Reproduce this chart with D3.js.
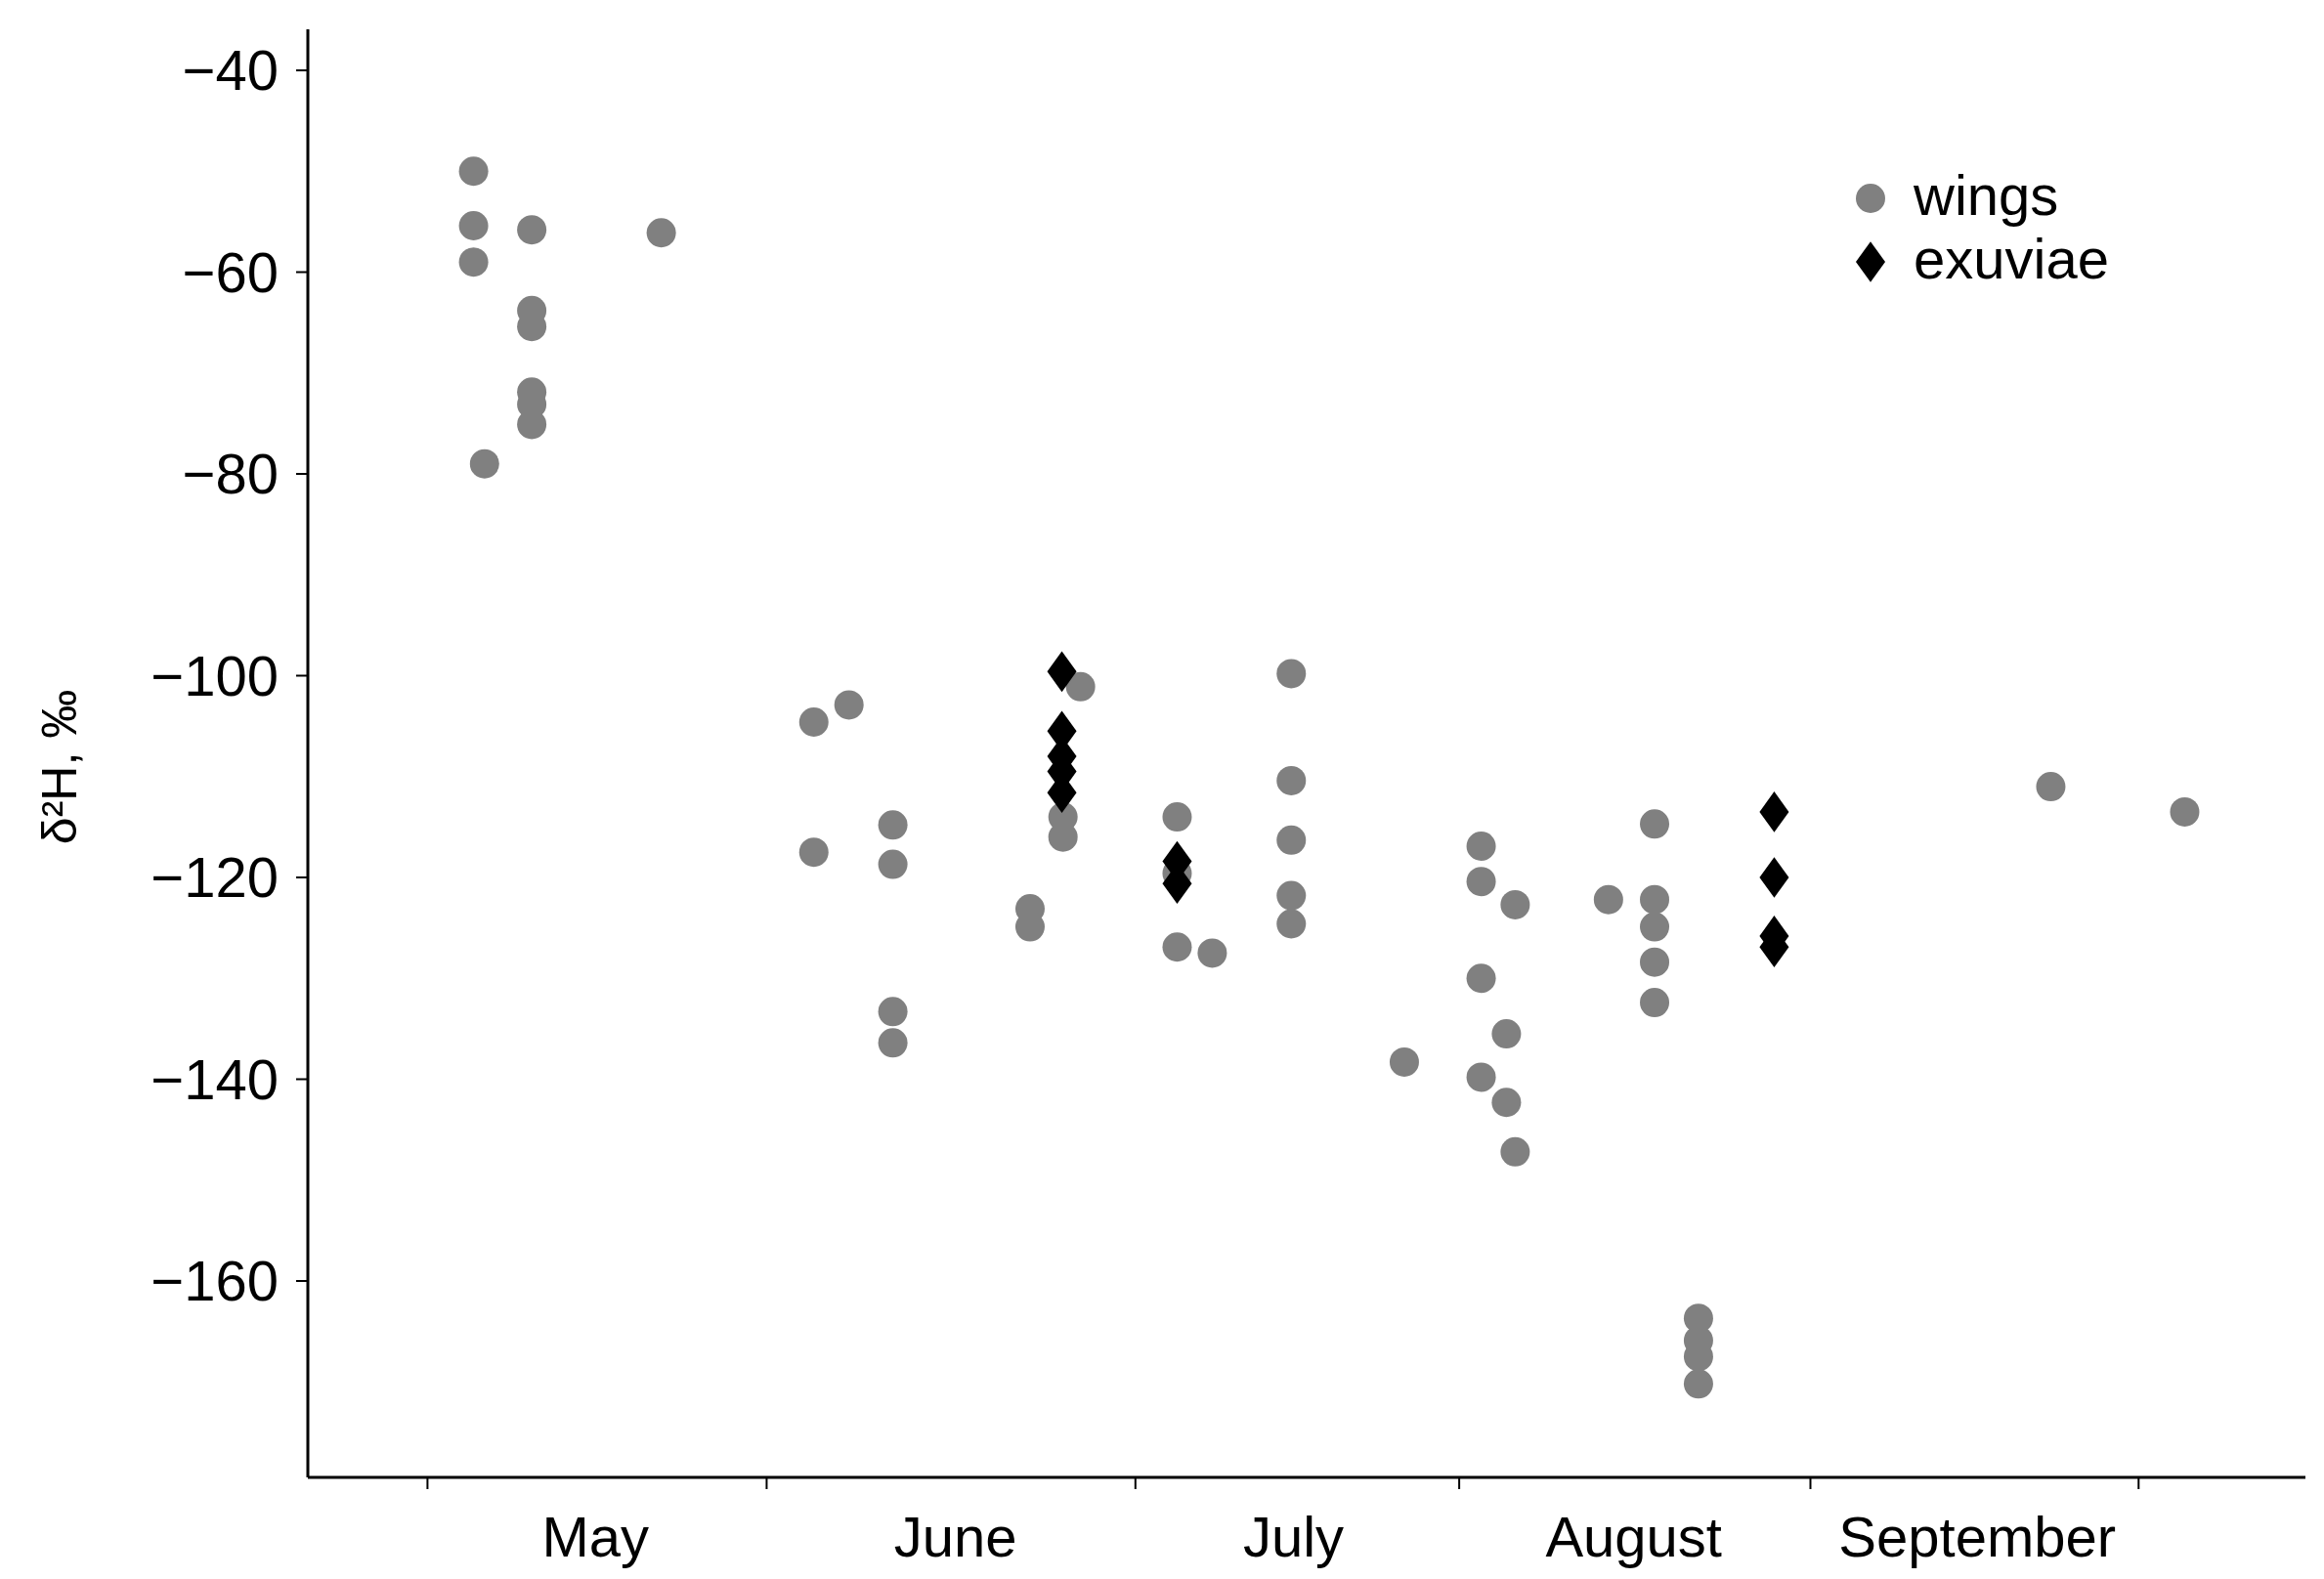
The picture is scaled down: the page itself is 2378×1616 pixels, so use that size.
<!DOCTYPE html>
<html><head><meta charset="utf-8">
<script src="https://cdn.jsdelivr.net/npm/d3@7"></script>
<style>body{margin:0;background:#fff}svg{display:block}text{font-family:"Liberation Sans",Arial,sans-serif}</style>
</head><body>
<script>
// x in days from ~20 April; y is δ2H in ‰
var wings = [
  [15.1,-50],[15.1,-55.4],[15.1,-59.0],[16.1,-79],
  [20.4,-55.8],[20.4,-63.8],[20.4,-65.4],[20.4,-71.9],[20.4,-73.1],[20.4,-75.1],
  [32.2,-56.1],
  [46.1,-104.6],[46.1,-117.5],[49.3,-102.9],
  [53.3,-114.8],[53.3,-118.7],[53.3,-133.3],[53.3,-136.4],
  [65.8,-123.1],[65.8,-124.9],[68.8,-114.0],[68.8,-116.0],[70.4,-101.1],
  [79.2,-114],[79.2,-119.6],[79.2,-126.9],[82.4,-127.5],
  [89.6,-99.8],[89.6,-110.4],[89.6,-116.3],[89.6,-121.8],[89.6,-124.6],
  [99.9,-138.3],
  [106.9,-116.9],[106.9,-120.4],[106.9,-130.0],[106.9,-139.8],
  [109.2,-135.5],[109.2,-142.3],[110.0,-122.7],[110.0,-147.2],
  [118.5,-122.2],
  [122.7,-114.7],[122.7,-122.2],[122.7,-124.9],[122.7,-128.4],[122.7,-132.4],
  [126.7,-163.7],[126.7,-165.9],[126.7,-167.5],[126.7,-170.2],
  [158.8,-111.0],[171,-113.5]
];
var exuviae = [
  [68.7,-99.6],[68.7,-105.5],[68.7,-108.0],[68.7,-109.5],[68.7,-111.6],
  [79.2,-118.4],[79.2,-120.6],
  [133.6,-113.5],[133.6,-120.0],[133.6,-125.8],[133.6,-126.9]
];
var monthTicks = [10.9,41.8,75.4,104.9,136.9,166.8];
var monthLabels = [[26.2,"May"],[59,"June"],[89.8,"July"],[120.8,"August"],[152.1,"September"]];
var yTicks = [-40,-60,-80,-100,-120,-140,-160];

var W = 2378, H = 1616;
var svg = d3.select("body").append("svg").attr("width", W).attr("height", H);

var x = d3.scaleLinear().domain([0,182]).range([315,2359]);
var y = d3.scaleLinear().domain([-40,-160]).range([72,1311]);
var bottom = 1512;

// axes
svg.append("line").attr("x1",315).attr("x2",315).attr("y1",30).attr("y2",bottom)
  .attr("stroke","#000").attr("stroke-width",3);
svg.append("line").attr("x1",315).attr("x2",2359).attr("y1",bottom).attr("y2",bottom)
  .attr("stroke","#000").attr("stroke-width",3);

svg.selectAll("line.yt").data(yTicks).enter().append("line")
  .attr("x1",303).attr("x2",315).attr("y1",d=>y(d)).attr("y2",d=>y(d))
  .attr("stroke","#000").attr("stroke-width",2);
svg.selectAll("text.yt").data(yTicks).enter().append("text")
  .attr("x",285).attr("y",d=>y(d)).attr("dy","0.35em").attr("text-anchor","end")
  .attr("font-size",58).text(d=>"\u2212"+Math.abs(d));

svg.selectAll("line.xt").data(monthTicks).enter().append("line")
  .attr("x1",d=>x(d)).attr("x2",d=>x(d)).attr("y1",bottom).attr("y2",bottom+12)
  .attr("stroke","#000").attr("stroke-width",2);
svg.selectAll("text.xt").data(monthLabels).enter().append("text")
  .attr("x",d=>x(d[0])).attr("y",1593).attr("text-anchor","middle")
  .attr("font-size",58).text(d=>d[1]);

svg.append("text").attr("transform","translate(78,785) rotate(-90)")
  .attr("text-anchor","middle").attr("font-size",50).text("\u03B4\u00B2H, \u2030");

// points
svg.selectAll("circle.w").data(wings).enter().append("circle")
  .attr("cx",d=>x(d[0])).attr("cy",d=>y(d[1])).attr("r",15).attr("fill","#808080");
var diamond = d3.symbol().type(d3.symbolDiamond).size(500);
svg.selectAll("path.e").data(exuviae).enter().append("path")
  .attr("d",diamond).attr("transform",d=>"translate("+x(d[0])+","+y(d[1])+") scale(1.25,1)")
  .attr("fill","#000");

// legend
svg.append("circle").attr("cx",1914).attr("cy",203).attr("r",15).attr("fill","#808080");
svg.append("path").attr("d",diamond).attr("transform","translate(1914,268) scale(1.25,1)").attr("fill","#000");
svg.append("text").attr("x",1958).attr("y",203).attr("dy","0.3em").attr("font-size",58).text("wings");
svg.append("text").attr("x",1958).attr("y",268).attr("dy","0.3em").attr("font-size",58).text("exuviae");
</script>
</body></html>
